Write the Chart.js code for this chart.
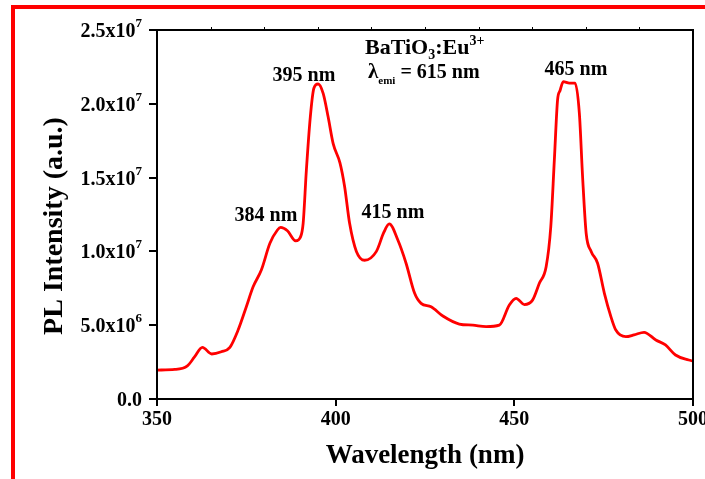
<!DOCTYPE html>
<html>
<head>
<meta charset="utf-8">
<script src="https://cdn.jsdelivr.net/npm/chart.js@4.4.1/dist/chart.umd.min.js"></script>
<style>
  html, body { margin: 0; padding: 0; background: #fff; }
  #wrap { width: 705px; height: 479px; position: relative; }
</style>
</head>
<body>
<div id="wrap"><canvas id="plChart" width="705" height="479"></canvas></div>
<script>
// PL excitation spectrum (wavelength in nm, intensity in a.u.)
const wavelength = [
    350, 355, 358.5, 360.5, 362.7, 365.3, 368, 370.4, 372.7, 375, 376.9, 379.2,
    381.6, 383.7, 384.6, 386.5, 388.8, 390.2, 390.9, 391.8, 392.9, 393.9, 395.1,
    396.5, 397.9, 399.3, 401.2, 402.5, 403.9, 405.8, 408.1, 411.4, 413.5, 415,
    417.4, 419.7, 422.1, 423.9, 426.7, 430, 434.6, 438.4, 442.1, 445.8, 448.6,
    450.5, 452.8, 455.1, 457, 458.9, 460.2, 461.2, 462.1, 462.8, 463.7, 465.4,
    467, 468.2, 469.1, 470.1, 471.5, 473.3, 475.2, 477, 478.4, 481.2, 483.5,
    486.3, 489.6, 492.3, 495.1, 498.8, 500
];
const intensity = [
    1.96e6, 2.0e6, 2.25e6, 2.85e6, 3.5e6, 3.05e6, 3.2e6, 3.5e6, 4.67e6, 6.25e6, 7.6e6, 8.74e6,
    1.055e7, 1.145e7, 1.163e7, 1.14e7, 1.072e7, 1.10e7, 1.19e7, 1.55e7, 1.91e7, 2.105e7, 2.134e7,
    2.07e7, 1.91e7, 1.73e7, 1.60e7, 1.44e7, 1.19e7, 1.0e7, 9.4e6, 1.0e7, 1.13e7, 1.186e7,
    1.077e7, 9.2e6, 7.16e6, 6.48e6, 6.25e6, 5.62e6, 5.08e6, 5.0e6, 4.9e6, 5.0e6, 6.37e6,
    6.82e6, 6.4e6, 6.7e6, 7.84e6, 8.96e6, 1.167e7, 1.62e7, 2.026e7, 2.09e7, 2.15e7, 2.14e7,
    2.14e7, 1.935e7, 1.506e7, 1.123e7, 1.0e7, 9.2e6, 7.16e6, 5.6e6, 4.67e6, 4.22e6, 4.34e6,
    4.52e6, 4.0e6, 3.66e6, 2.98e6, 2.64e6, 2.57e6
];
const xTicks = [350, 400, 450, 500];
const yTickValues = [0, 5e6, 1e7, 1.5e7, 2e7, 2.5e7];
const yTickLabels = ['0.0', '5.0x10^6', '1.0x10^7', '1.5x10^7', '2.0x10^7', '2.5x10^7'];
const peakLabels = ['384 nm', '395 nm', '415 nm', '465 nm'];

const serif = '"Liberation Serif", "Times New Roman", serif';
const red = '#ff0000';

const points = wavelength.map((w, i) => ({ x: w, y: intensity[i] }));

// draws text made of pieces: [text, size, baselineShift] (for sub/superscripts)
function drawRich(ctx, parts, x, y) {
    let cx = x;
    parts.forEach(p => {
        ctx.font = 'bold ' + p[1] + 'px ' + serif;
        ctx.fillText(p[0], cx, y + (p[2] || 0));
        cx += ctx.measureText(p[0]).width;
    });
}
function richWidth(ctx, parts) {
    let w = 0;
    parts.forEach(p => {
        ctx.font = 'bold ' + p[1] + 'px ' + serif;
        w += ctx.measureText(p[0]).width;
    });
    return w;
}

const decorations = {
    id: 'decorations',
    afterDraw(chart) {
        const ctx = chart.ctx;
        const area = chart.chartArea;
        const xs = chart.scales.x;
        const ys = chart.scales.y;
        ctx.save();

        // red frame of the figure
        ctx.fillStyle = red;
        ctx.fillRect(11, 5, chart.width - 11, 4);
        ctx.fillRect(11, 5, 4, chart.height - 5);

        // box round the plot
        ctx.strokeStyle = '#000';
        ctx.lineWidth = 2;
        ctx.strokeRect(area.left, area.top, area.right - area.left, area.bottom - area.top);

        // small ticks on the top axis
        ctx.lineWidth = 1;
        for (let v = 365; v < 500; v += 15) {
            const px = Math.round(xs.getPixelForValue(v)) + 0.5;
            ctx.beginPath();
            ctx.moveTo(px, area.top - 3);
            ctx.lineTo(px, area.top);
            ctx.stroke();
        }

        ctx.fillStyle = '#000';
        ctx.textBaseline = 'alphabetic';
        ctx.textAlign = 'left';

        // y tick labels with exponents
        yTickValues.forEach((v, i) => {
            const [base, exp] = yTickLabels[i].split('^');
            const parts = [[base, 20, 0]];
            if (exp) parts.push([exp, 13, -10]);
            const w = richWidth(ctx, parts);
            drawRich(ctx, parts, area.left - 15 - w, ys.getPixelForValue(v) + 7);
        });

        // peak labels
        ctx.font = 'bold 20px ' + serif;
        ctx.textAlign = 'center';
        ctx.fillText(peakLabels[0], area.left + 109, area.top + 191);
        ctx.fillText(peakLabels[1], area.left + 147, area.top + 51);
        ctx.fillText(peakLabels[2], area.left + 236, area.top + 188);
        ctx.fillText(peakLabels[3], area.left + 419, area.top + 45);

        // sample and emission wavelength
        ctx.textAlign = 'left';
        drawRich(ctx, [['BaTiO', 22, 0], ['3', 14, 5], [':Eu', 22, 0], ['3+', 14, -9]], area.left + 208, area.top + 24);
        drawRich(ctx, [['\u03bb', 21, 0], ['emi', 11, 6], [' = 615 nm', 20, 0]], area.left + 211, area.top + 48);

        // axis titles
        ctx.font = 'bold 27px ' + serif;
        ctx.textAlign = 'center';
        ctx.fillText('Wavelength (nm)', (area.left + area.right) / 2, area.bottom + 64);
        ctx.save();
        ctx.translate(62, 226);
        ctx.rotate(-Math.PI / 2);
        ctx.font = 'bold 28px ' + serif;
        ctx.fillText('PL Intensity (a.u.)', 0, 0);
        ctx.restore();

        ctx.restore();
    }
};

new Chart(document.getElementById('plChart'), {
    type: 'scatter',
    data: {
        datasets: [{
            data: points,
            showLine: true,
            borderColor: red,
            borderWidth: 2.8,
            pointRadius: 0,
            cubicInterpolationMode: 'monotone',
            fill: false
        }]
    },
    options: {
        responsive: false,
        animation: false,
        events: [],
        layout: { padding: { left: 157, right: 12, top: 30, bottom: 0 } },
        scales: {
            x: {
                type: 'linear',
                min: 350,
                max: 500,
                afterFit: s => { s.height = 80; s.paddingLeft = 0; s.paddingRight = 0; },
                afterBuildTicks: s => { s.ticks = xTicks.map(v => ({ value: v })); },
                border: { display: true, color: '#000', width: 2 },
                grid: { drawOnChartArea: false, drawTicks: true, tickLength: 7, color: '#000', lineWidth: 2 },
                ticks: {
                    color: '#000',
                    padding: 2,
                    maxRotation: 0,
                    autoSkip: false,
                    font: { family: serif, size: 20, weight: 'bold' }
                }
            },
            y: {
                min: 0,
                max: 2.5e7,
                afterFit: s => { s.width = 0; s.paddingTop = 0; s.paddingBottom = 0; },
                afterBuildTicks: s => { s.ticks = yTickValues.map(v => ({ value: v })); },
                border: { display: true, color: '#000', width: 2 },
                grid: { drawOnChartArea: false, drawTicks: true, tickLength: 8, color: '#000', lineWidth: 2 },
                ticks: { color: 'rgba(0,0,0,0)', font: { family: serif, size: 20, weight: 'bold' } }
            }
        },
        plugins: {
            legend: { display: false },
            tooltip: { enabled: false }
        }
    },
    plugins: [decorations]
});
</script>
</body>
</html>
